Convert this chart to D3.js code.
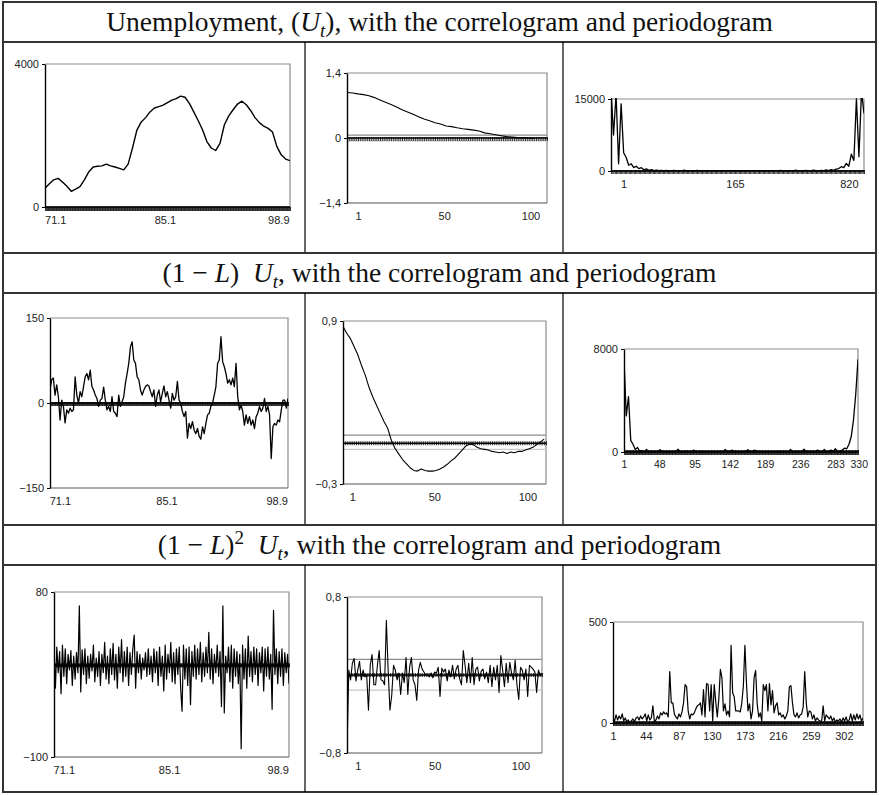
<!DOCTYPE html>
<html>
<head>
<meta charset="utf-8">
<script src="https://cdn.jsdelivr.net/npm/d3@7"></script>
<style>
body { margin: 0; background: #fff; }
svg { display: block; }
</style>
</head>
<body>
<svg id="chart" width="879" height="795"></svg>
<script>
// ---- data ----

// time series, monthly 71.1 .. 98.12
var months = 336
var dateLabels = ["71.1", "85.1", "98.9"]
var dateLabelAt = [14, 164, 319]

var unemployment = [523, 650, 760, 800, 700, 580, 440, 500, 570, 760, 980, 1120, 1140, 1150, 1200,
    1150, 1120, 1080, 1040, 1200, 1650, 2150, 2380, 2500, 2660, 2770, 2810, 2850, 2920, 2990,
    3030, 3100, 3070, 2900, 2660, 2420, 2160, 1830, 1650, 1580, 1780, 2300, 2550, 2720, 2880,
    2960, 2860, 2700, 2500, 2360, 2260, 2200, 2100, 1690, 1460, 1340, 1296]

var diff1 = [23, 41, 44, 14, 32, 11, -30, 5, -6, -35, -12, -18, -9, -15, -12, 46, 14, 0, 20, 11,
    29, 46, 52, 41, 58, 29, 23, 14, 8, -6, 5, 8, 28, 5, -12, -6, -15, 11, -15, -18, -24, 14, -6, 2,
    11, 35, 52, 70, 99, 108, 76, 70, 46, 41, 23, 14, 23, 29, 32, 30, 20, 11, 23, -6, 14, 23, 2, 17,
    30, 11, 20, 5, -9, 17, 5, 11, 38, 5, 0, -15, -24, -15, -62, -36, -45, -33, -48, -54, -45, -59,
    -64, -42, -54, -36, -21, -18, -6, 0, 14, 29, 70, 76, 117, 73, 64, 52, 35, 41, 32, 44, 29, 70,
    11, -12, -4, -15, -39, -21, -36, -24, -39, -30, -45, -24, -18, -6, -15, -9, 8, -15, -6, -21,
    -98, -42, -36, -39, -30, -33, -12, 5, 5, -9, 8]

var diff2 = [18, -25, 20, -8, 15, -31, 22, -12, 18, -20, 12, -5, 16, -22, 10, -15, 14, -8,
    65, -29,
    17, -10, 18, -20, 10, -14, 12, -6, 22, -18, 8, -12, 15, -22, 12, -8, 25, -15, 10, -20, 18, -10,
    24, -16, 12, -25, 20, -8, 28, -18, 15,
    -12, 20, -22, 14, -10, 18, 33, -25, 15, -8, 12, -15, 8, -5, 14, -12, 18, -10, 10, -18,
    18, -8, 15, -22, 20, -12, 10, -28, 22, -15, 12, -8, 25, -18, 14, -20, 18, -10, 20, -25,
    -50, 22, -15, 18, -22, 20, -43, 15, -12, 22, -15, 18, -10, 25, -18, 14, -12, 20, -8, 36,
    -15, 18, -20, 12, -8, 22, -12, 15, -45, 65, -52, 10, -8, 20, -18, 22, -25, 18, -12, 15,
    -20, 12, -91, 22, -15, 18, -25, 32, -12, 15, -18, 20, -10, 18, -22, 14, -8, 20, -28, 18,
    -12, 20, -15, 12, -48, 60, -10, 18, -20, 15, -12, 18, -22, 14, -8, 12, -20]

// correlograms
var maxLag = 110
var acfLabels = ["1", "50", "100"]
var acfLevel = [0.98, 0.97, 0.95, 0.935, 0.91, 0.87, 0.82, 0.77, 0.72, 0.67, 0.61, 0.56, 0.51,
    0.46, 0.41, 0.37, 0.33, 0.30, 0.26, 0.245, 0.22, 0.20, 0.185, 0.17, 0.15, 0.11, 0.09, 0.07,
    0.05, 0.03, 0.02, 0.01, 0.005, 0.0, -0.01]          // lags 1, 4, 7, ...
var acfLevelStep = 3
var acfDiff1 = [0.86, 0.81, 0.77, 0.71, 0.65, 0.57, 0.50, 0.41, 0.34, 0.28, 0.22, 0.16, 0.11,
    0.02, -0.04, -0.08, -0.12, -0.15, -0.18, -0.20, -0.205, -0.19, -0.2, -0.205, -0.205, -0.2,
    -0.19, -0.175, -0.155, -0.13, -0.11, -0.08, -0.05, -0.02, -0.005, -0.01, -0.03, -0.04, -0.045,
    -0.05, -0.06, -0.065, -0.07, -0.065, -0.075, -0.065, -0.07, -0.06, -0.06, -0.05, -0.04, -0.03,
    -0.01, 0.01, 0.03]                                   // lags 1, 3, 5, ...
var acfDiff1Step = 2
var acfDiff2 = [-0.78, 0.05, -0.05, 0.12, 0.17, -0.06, 0.05, 0.14, -0.05, 0.05, -0.02, 0.0,
    -0.36, 0.1, 0.21, -0.1, -0.1, 0.1, 0.25, -0.05, -0.06, -0.1, 0.56, 0.05, -0.36, -0.21, 0.1,
    0.05, -0.05, 0.02, -0.2, 0.02, -0.08, 0.18, -0.2, 0.08, 0.18, -0.05, -0.1, -0.26, 0.05, 0.13,
    0.06, 0.03, 0.0, 0.01, -0.02, 0.02, -0.03, 0.03, 0.02, 0.08, -0.22, 0.07, 0.03, 0.06, -0.06,
    0.05, -0.02, 0.1, -0.04, 0.06, 0.1, -0.04, -0.1, 0.25, 0.1, -0.08, 0.12, -0.08, 0.18, -0.1,
    0.06, 0.08, -0.06, 0.04, 0.06, -0.04, 0.03, -0.08, 0.1, -0.12, 0.08, -0.05, 0.1, -0.18, 0.2,
    0.05, -0.12, 0.12, -0.08, 0.13, 0.02, -0.05, 0.15, -0.1, -0.25, 0.08, 0.05, -0.05, 0.06,
    -0.22, 0.1, 0.08, 0.06, 0.03, -0.18, 0.05, 0.0, 0.02]
var acfDiff2Step = 1
var bandLevel = [0.06, -0.06]
var bandDiff1 = [0.06, -0.045]
var bandDiff2 = [0.16, -0.155]

// periodograms
var pgLevel = [17000, 7500, 16000, 1500, 14000, 3800, 2800, 1200, 1500, 700, 1000, 500, 700, 250,
    450, 150, 300, 100, 200, 60, 150,
    40, 120, 20, 80, 150, 30, 60, 10, 200, 40, 20, 90, 10, 150, 30, 50, 20, 100, 10, 40, 20, 30,
    10, 60, 20, 10, 40, 10, 30, 20, 10, 50, 20, 10, 30, 10, 20, 10, 40, 10, 20, 60, 10, 30, 20, 10,
    150, 20, 40, 10, 30, 10, 180, 20, 60, 10, 150, 40, 20, 200, 60, 30, 150, 50, 250, 100, 300,
    150, 400,
    500, 900, 700, 1600, 1000, 3500, 2200, 15000, 3000, 16500, 12000]
var pgLevelLabels = ["1", "165", "820"]
var pgLevelLabelAt = [5, 49, 94]

var pgDiff1 = [7200, 2800, 4300, 900, 600, 200, 350, 50, 100, 30, 200, 20, 60, 10, 40, 20, 180,
    30, 10, 50, 20, 10, 40, 10, 220, 30, 10, 20, 60, 10, 30, 150, 20, 10, 40, 10, 20, 30, 10, 50,
    20, 10, 30, 20, 10, 200, 30, 10, 150, 20, 40, 10, 30, 20, 10, 180, 30, 10, 150, 40, 10, 20,
    30, 10, 50, 10, 20, 30, 10, 40, 20, 10, 30, 20, 200, 30, 10, 40, 20, 10, 220, 30, 10, 20, 40,
    10, 150, 30, 10, 200, 20, 10, 150, 40, 250, 20, 60, 150, 300, 250, 600, 1200, 2500, 4500, 7200]
var pgDiff1Labels = ["1", "48", "95", "142", "189", "236", "283", "330"]
var pgDiff1LabelAt = [1, 48, 95, 142, 189, 236, 283, 314]

var pgDiff2 = [20, 10, 40, 15, 35, 20, 45, 10, 25, 5, 15, 0, 10, 20, 5, 25, 30, 15, 35, 20, 30, 45,
    10, 40, 15, 25, 85, 5, 15, 35, 20, 50, 40, 55, 45, 50, 30, 255, 100, 100, 45, 30, 20, 45, 30,
    55, 100, 190, 180, 60, 20, 45, 40, 50, 70, 85, 90, 100, 40, 165, 30, 195, 190, 60, 190, 10,
    190, 105, 30, 120, 265, 225, 60, 95, 40, 60, 30, 385, 150, 130, 60, 60, 60, 55, 100, 185, 385,
    200, 60, 95, 20, 60, 225, 260, 95, 30, 50, 10, 190, 160, 190, 60, 195, 90, 160, 50, 85, 100,
    40, 50, 30, 40, 20, 35, 60, 180, 185, 100, 40, 30, 50, 25, 40, 45, 80, 255, 100, 30, 60, 55,
    20, 40, 10, 25, 15, 10, 5, 85, 10, 40, 30, 20, 35, 10, 25, 5, 15, 10, 20, 5, 25, 10, 30, 5, 15,
    45, 10, 40, 15, 45, 20, 40, 10, 25]
var pgDiff2Labels = ["1", "44", "87", "130", "173", "216", "259", "302"]
var pgDiff2LabelAt = [1, 44, 87, 130, 173, 216, 259, 302]

// ---- drawing ----
var serif = '"Liberation Serif", "Times New Roman", serif'
var sans = '"Liberation Sans", Arial, sans-serif'
var svg = d3.select('#chart')
var clipCount = 0

// table frame
var colEdges = [3, 305, 563, 876]
var headerRows = [[2, 42], [253, 293], [525, 565]]
var tableBottom = 792

svg.append('rect').attr('x', colEdges[0]).attr('y', 2)
    .attr('width', colEdges[3] - colEdges[0]).attr('height', tableBottom - 2)
    .attr('fill', 'none').attr('stroke', '#333').attr('stroke-width', 2)

headerRows.forEach(function (h, i) {
    svg.append('line').attr('x1', colEdges[0]).attr('x2', colEdges[3])
        .attr('y1', h[1]).attr('y2', h[1]).attr('stroke', '#333').attr('stroke-width', 2)
    if (i > 0) {
        svg.append('line').attr('x1', colEdges[0]).attr('x2', colEdges[3])
            .attr('y1', h[0]).attr('y2', h[0]).attr('stroke', '#333').attr('stroke-width', 2)
    }
    // column dividers of the panel row beneath the header
    var bottom = i < headerRows.length - 1 ? headerRows[i + 1][0] : tableBottom
    ;[colEdges[1], colEdges[2]].forEach(function (cx) {
        svg.append('line').attr('x1', cx).attr('x2', cx).attr('y1', h[1]).attr('y2', bottom)
            .attr('stroke', '#000').attr('stroke-width', 1.2)
    })
})

// headers, with italic U, L and sub/superscripts
var headerParts = [
    [{t: 'Unemployment, ('}, {t: 'U', it: true}, {t: 't', it: true, sub: true}, {t: '), with the correlogram and periodogram'}],
    [{t: '(1 \u2212 '}, {t: 'L', it: true}, {t: ')  '}, {t: 'U', it: true}, {t: 't', it: true, sub: true}, {t: ', with the correlogram and periodogram'}],
    [{t: '(1 \u2212 '}, {t: 'L', it: true}, {t: ')'}, {t: '2', sup: true}, {t: '  '}, {t: 'U', it: true}, {t: 't', it: true, sub: true}, {t: ', with the correlogram and periodogram'}]
]
headerParts.forEach(function (parts, i) {
    var h = headerRows[i]
    var text = svg.append('text')
        .attr('x', (colEdges[0] + colEdges[3]) / 2)
        .attr('y', (h[0] + h[1]) / 2 + 9)
        .attr('text-anchor', 'middle')
        .attr('font-family', serif).attr('font-size', 27.5).attr('fill', '#111')
        .style('white-space', 'pre')
    var shift = 0
    parts.forEach(function (p) {
        var target = p.sub ? 6 : (p.sup ? -10 : 0)
        var ts = text.append('tspan').text(p.t).attr('dy', target - shift)
        if (p.it) ts.attr('font-style', 'italic')
        if (p.sub || p.sup) ts.attr('font-size', 19)
        shift = target
    })
})

function drawPanel(opt) {
    var box = opt.box
    var x = d3.scaleLinear().domain(opt.xDomain).range([box.l, box.r])
    var y = d3.scaleLinear().domain(opt.yDomain).range([box.b, box.t])
    var g = svg.append('g')
    var clipId = 'clip' + (clipCount++)
    svg.append('clipPath').attr('id', clipId).append('rect')
        .attr('x', box.l).attr('y', box.t - 1)
        .attr('width', box.r - box.l).attr('height', box.b - box.t + 1)

    // plot area border
    g.append('path').attr('d', 'M' + box.l + ',' + box.t + 'H' + box.r + 'V' + box.b)
        .attr('fill', 'none').attr('stroke', '#8c8c8c').attr('stroke-width', 1.2)
    g.append('line').attr('x1', box.l).attr('x2', box.r).attr('y1', box.b).attr('y2', box.b)
        .attr('stroke', '#555').attr('stroke-width', 1.2)

    // +/- 2 s.e. bands
    if (opt.band) {
        g.append('line').attr('x1', box.l).attr('x2', box.r)
            .attr('y1', y(opt.band[0])).attr('y2', y(opt.band[0]))
            .attr('stroke', '#8c8c8c').attr('stroke-width', 1.3)
        g.append('line').attr('x1', box.l).attr('x2', box.r)
            .attr('y1', y(opt.band[1])).attr('y2', y(opt.band[1]))
            .attr('stroke', '#c8c8c8').attr('stroke-width', 1.3)
    }

    // x axis through zero, one tick per category
    var xAxis = d3.axisBottom(x).tickValues(opt.xTicks).tickSize(opt.tickLen).tickFormat('')
    var ax = g.append('g').attr('transform', 'translate(0,' + (y(0) - opt.tickUp) + ')').call(xAxis)
    ax.select('.domain').remove()
    ax.selectAll('line').attr('stroke', '#000').attr('stroke-width', 0.8)
    g.append('line').attr('x1', box.l).attr('x2', box.r).attr('y1', y(0)).attr('y2', y(0))
        .attr('stroke', '#000').attr('stroke-width', 1.6)

    // series
    var line = d3.line()
        .x(function (d, i) { return x(opt.xOf(i, opt.values.length)) })
        .y(function (d) { return y(d) })
    g.append('path').datum(opt.values)
        .attr('clip-path', 'url(#' + clipId + ')')
        .attr('d', line)
        .attr('fill', 'none').attr('stroke', '#000')
        .attr('stroke-width', opt.lineWidth).attr('stroke-linejoin', 'round')

    // y axis
    var yAxis = d3.axisLeft(y).tickValues(opt.yTicks)
        .tickFormat(function (d, i) { return opt.yLabels[i] })
        .tickSize(3).tickSizeOuter(0).tickPadding(3)
    var ay = g.append('g').attr('transform', 'translate(' + box.l + ',0)').call(yAxis)
    ay.attr('font-family', sans).attr('font-size', 11)
    ay.select('.domain').attr('stroke', '#000').attr('stroke-width', 1.4)
    ay.selectAll('text').attr('fill', '#222')

    // category labels under the plot
    var xl = d3.axisBottom(x).tickValues(opt.xLabelAt)
        .tickFormat(function (d, i) { return opt.xLabels[i] })
        .tickSize(0).tickPadding(9)
    var al = g.append('g').attr('transform', 'translate(0,' + box.b + ')').call(xl)
    al.attr('font-family', sans).attr('font-size', opt.labelSize || 11)
    al.select('.domain').remove()
    al.selectAll('text').attr('fill', '#222')
}

function monthOf(i, n) { return i * (months - 1) / (n - 1) }
function lagOf(step) { return function (i) { return 1 + i * step } }
function spread(a, b) { return function (i, n) { return a + i * (b - a) / (n - 1) } }

var monthTicks = d3.range(0, months, 1)
var lagTicks = d3.range(1, maxLag + 1, 1)

// row 1: level
drawPanel({box: {l: 45, r: 290, t: 64, b: 207}, values: unemployment, xDomain: [0, months - 1],
    xOf: monthOf, yDomain: [0, 4000], yTicks: [4000, 0], yLabels: ['4000', '0'],
    xTicks: monthTicks, tickLen: 4, tickUp: 0, xLabels: dateLabels, xLabelAt: dateLabelAt, lineWidth: 1.4})
drawPanel({box: {l: 347, r: 547, t: 73, b: 203}, values: acfLevel, xDomain: [1, maxLag],
    xOf: lagOf(acfLevelStep), yDomain: [-1.4, 1.4], yTicks: [1.4, 0, -1.4], yLabels: ['1,4', '0', '\u22121,4'],
    xTicks: lagTicks, tickLen: 4, tickUp: 1, band: bandLevel, xLabels: acfLabels, xLabelAt: [7, 54, 101], lineWidth: 1.1})
drawPanel({box: {l: 611, r: 864, t: 99, b: 171}, values: pgLevel, xDomain: [0, 100],
    xOf: spread(0, 100), yDomain: [0, 15000], yTicks: [15000, 0], yLabels: ['15000', '0'],
    xTicks: d3.range(0, 100.01, 0.5), tickLen: 4, tickUp: 1, xLabels: pgLevelLabels, xLabelAt: pgLevelLabelAt, lineWidth: 1.3})

// row 2: first difference
drawPanel({box: {l: 50, r: 288, t: 318, b: 488}, values: diff1, xDomain: [0, months - 1],
    xOf: monthOf, yDomain: [-150, 150], yTicks: [150, 0, -150], yLabels: ['150', '0', '\u2212150'],
    xTicks: monthTicks, tickLen: 4, tickUp: 1, xLabels: dateLabels, xLabelAt: dateLabelAt, lineWidth: 1.3})
drawPanel({box: {l: 343, r: 546, t: 321, b: 484}, values: acfDiff1, xDomain: [1, maxLag],
    xOf: lagOf(acfDiff1Step), yDomain: [-0.3, 0.9], yTicks: [0.9, -0.3], yLabels: ['0,9', '\u22120,3'],
    xTicks: lagTicks, tickLen: 4, tickUp: 2, band: bandDiff1, xLabels: acfLabels, xLabelAt: [6, 50, 100], lineWidth: 1.1})
drawPanel({box: {l: 624, r: 858, t: 349, b: 452}, values: pgDiff1, xDomain: [1, 313],
    xOf: spread(1, 313), yDomain: [0, 8000], yTicks: [8000, 0], yLabels: ['8000', '0'],
    xTicks: d3.range(1, 314, 1), tickLen: 5, tickUp: 2, xLabels: pgDiff1Labels, xLabelAt: pgDiff1LabelAt,
    lineWidth: 1.3, labelSize: 10.5})

// row 3: second difference
drawPanel({box: {l: 54, r: 289, t: 592, b: 757}, values: diff2, xDomain: [0, months - 1],
    xOf: monthOf, yDomain: [-100, 80], yTicks: [80, -100], yLabels: ['80', '\u2212100'],
    xTicks: monthTicks, tickLen: 4, tickUp: 2, xLabels: dateLabels, xLabelAt: dateLabelAt, lineWidth: 1.2})
drawPanel({box: {l: 347, r: 542, t: 597, b: 753}, values: acfDiff2, xDomain: [1, maxLag],
    xOf: lagOf(acfDiff2Step), yDomain: [-0.8, 0.8], yTicks: [0.8, -0.8], yLabels: ['0,8', '\u22120,8'],
    xTicks: lagTicks, tickLen: 4, tickUp: 2, band: bandDiff2, xLabels: acfLabels, xLabelAt: [7, 50, 98], lineWidth: 1.1})
drawPanel({box: {l: 613, r: 863, t: 622, b: 723}, values: pgDiff2, xDomain: [1, 327],
    xOf: spread(1, 327), yDomain: [0, 500], yTicks: [500, 0], yLabels: ['500', '0'],
    xTicks: d3.range(1, 328, 1), tickLen: 5, tickUp: 2, xLabels: pgDiff2Labels, xLabelAt: pgDiff2LabelAt, lineWidth: 1.2})
</script>
</body>
</html>
